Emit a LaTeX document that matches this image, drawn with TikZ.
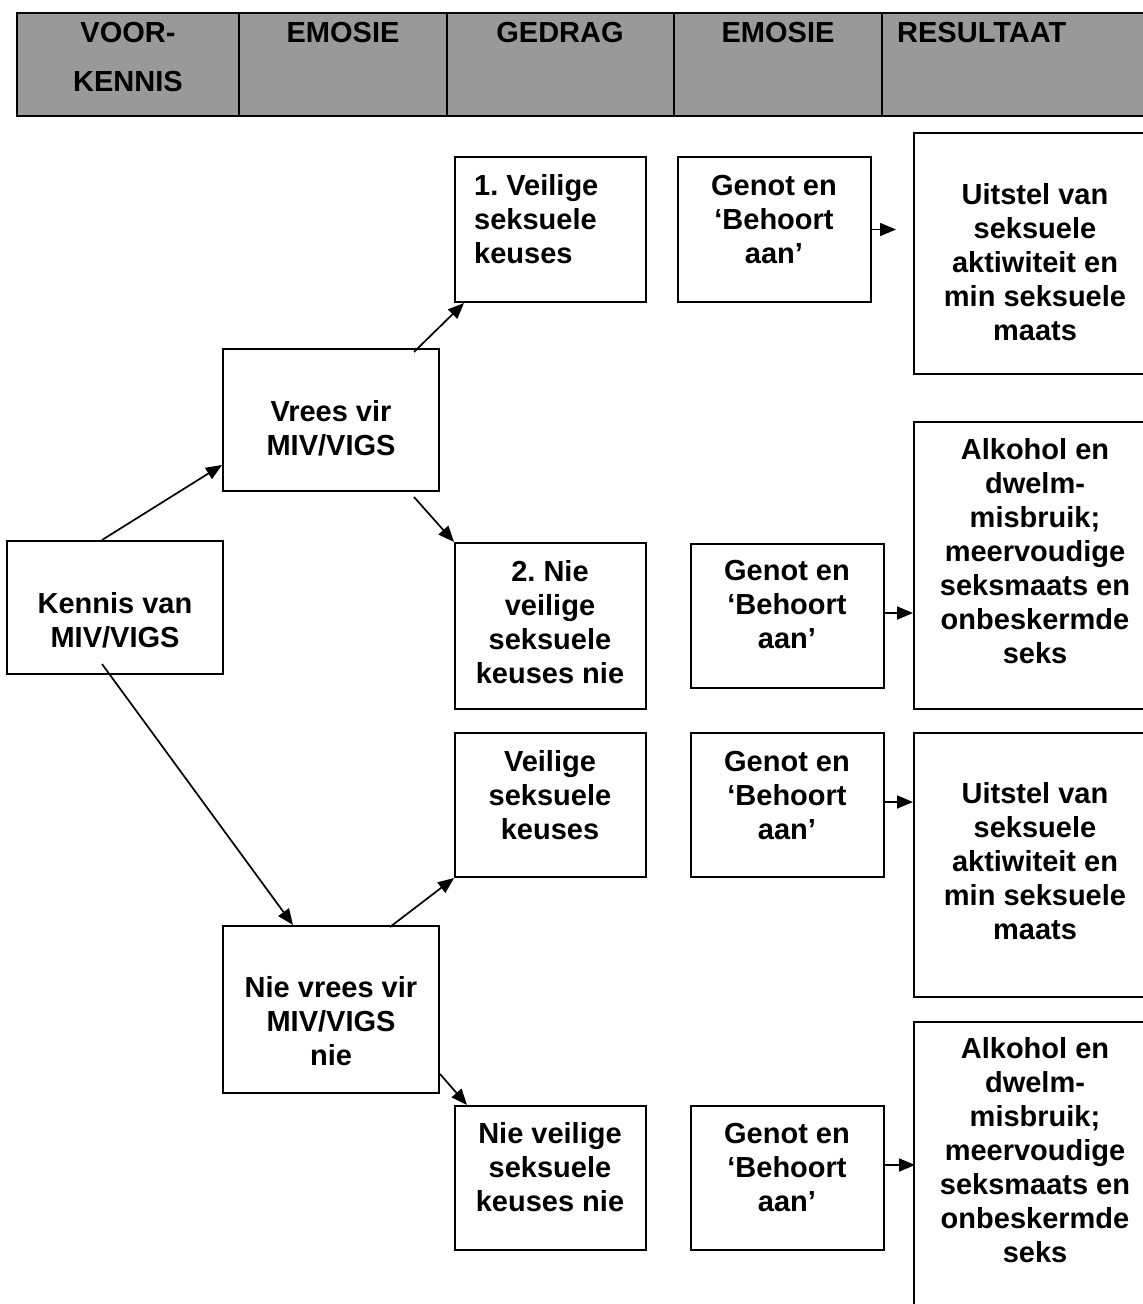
\documentclass[tikz,border=0pt]{standalone}
\usepackage{fontspec}
\setmainfont{Liberation Sans}
\usetikzlibrary{arrows.meta,fit}
\definecolor{hdrgray}{RGB}{153,153,153}
\newcommand{\mlc}[1]{\begin{tabular}[t]{@{}c@{}}#1\end{tabular}}
\newcommand{\mll}[1]{\begin{tabular}[t]{@{}l@{}}#1\end{tabular}}
\frenchspacing
\begin{document}
\frenchspacing
\begin{tikzpicture}[x=1pt,y=1pt,
  boxnode/.style={draw, line width=2pt, inner sep=0pt},
  hdrcell/.style={draw, fill=hdrgray, line width=2.5pt, inner sep=0pt},
  lbl/.style={inner sep=0pt, anchor=base, font=\fontsize{29}{34}\selectfont\bfseries\frenchspacing},
  arr/.style={line width=1.7pt, -{Triangle[length=16pt,width=13pt]}}
]
\useasboundingbox (0,0) rectangle (1143,-1304);
\begin{scope}
\clip (0,0) rectangle (1143,-1304);
% header
\node[hdrcell, fit={(17,-13)(239,-116)}] (h1) {};
\node[hdrcell, fit={(239,-13)(447,-116)}] (h2) {};
\node[hdrcell, fit={(447,-13)(674,-116)}] (h3) {};
\node[hdrcell, fit={(674,-13)(882,-116)}] (h4) {};
\node[hdrcell, fit={(882,-13)(1170,-116)}] (h5) {};
\node[lbl] (h1a) at (128,-42) {VOOR-};
\node[lbl] (h1b) at (128,-91) {KENNIS};
\node[lbl] (h2a) at (343,-42) {EMOSIE};
\node[lbl] (h3a) at (560,-42) {GEDRAG};
\node[lbl] (h4a) at (778,-42) {EMOSIE};
\node[lbl, anchor=base west] (h5a) at (897,-42) {RESULTAAT};
% boxes
\node[boxnode, fit={(7,-541)(223,-674)}] (kennis) {};
\node[boxnode, fit={(223,-349)(439,-491)}] (vrees) {};
\node[boxnode, fit={(223,-926)(439,-1093)}] (nievrees) {};
\node[boxnode, fit={(455,-157)(646,-302)}] (g1) {};
\node[boxnode, fit={(455,-543)(646,-709)}] (g2) {};
\node[boxnode, fit={(455,-733)(646,-877)}] (g3) {};
\node[boxnode, fit={(455,-1106)(646,-1250)}] (g4) {};
\node[boxnode, fit={(678,-157)(871,-302)}] (e1) {};
\node[boxnode, fit={(691,-544)(884,-688)}] (e2) {};
\node[boxnode, fit={(691,-733)(884,-877)}] (e3) {};
\node[boxnode, fit={(691,-1106)(884,-1250)}] (e4) {};
\node[boxnode, fit={(914,-133)(1170,-374)}] (r1) {};
\node[boxnode, fit={(914,-422)(1170,-709)}] (r2) {};
\node[boxnode, fit={(914,-733)(1170,-997)}] (r3) {};
\node[boxnode, fit={(914,-1022)(1170,-1340)}] (r4) {};
% texts
\node[lbl] (tk) at (115,-613) {\mlc{Kennis van\\MIV/VIGS}};
\node[lbl] (tv) at (331,-421) {\mlc{Vrees vir\\MIV/VIGS}};
\node[lbl] (tnv) at (331,-997) {\mlc{Nie vrees vir\\MIV/VIGS\\nie}};
\node[lbl, anchor=base west] (tg1) at (474,-195) {\mll{1. Veilige\\seksuele\\keuses}};
\node[lbl] (tg2) at (550,-581) {\mlc{2. Nie\\veilige\\seksuele\\keuses nie}};
\node[lbl] (tg3) at (550,-771) {\mlc{Veilige\\seksuele\\keuses}};
\node[lbl] (tg4) at (550,-1143) {\mlc{Nie veilige\\seksuele\\keuses nie}};
\node[lbl] (te1) at (774,-195) {\mlc{Genot en\\‘Behoort\\aan’}};
\node[lbl] (te2) at (787,-580) {\mlc{Genot en\\‘Behoort\\aan’}};
\node[lbl] (te3) at (787,-771) {\mlc{Genot en\\‘Behoort\\aan’}};
\node[lbl] (te4) at (787,-1143) {\mlc{Genot en\\‘Behoort\\aan’}};
\node[lbl] (tr1) at (1035,-204) {\mlc{Uitstel van\\seksuele\\aktiwiteit en\\min seksuele\\maats}};
\node[lbl] (tr2) at (1035,-459) {\mlc{Alkohol en\\dwelm-\\misbruik;\\meervoudige\\seksmaats en\\onbeskermde\\seks}};
\node[lbl] (tr3) at (1035,-803) {\mlc{Uitstel van\\seksuele\\aktiwiteit en\\min seksuele\\maats}};
\node[lbl] (tr4) at (1035,-1058) {\mlc{Alkohol en\\dwelm-\\misbruik;\\meervoudige\\seksmaats en\\onbeskermde\\seks}};
% connectors
\draw[arr] ([xshift=96pt]kennis.north west) -- ([yshift=-117pt]vrees.north west);
\draw[arr] ([xshift=96pt,yshift=11pt]kennis.south west) -- ([xshift=71pt]nievrees.north west);
\draw[arr] ([xshift=192pt,yshift=-4pt]vrees.north west) -- ([xshift=10pt]g1.south west);
\draw[arr] ([xshift=192pt,yshift=-5pt]vrees.south west) -- (g2.north west);
\draw[arr] ([xshift=168pt,yshift=-2pt]nievrees.north west) -- (g3.south west);
\draw[arr] ([yshift=20pt]nievrees.south east) -- ([xshift=13pt]g4.north west);
\coordinate (a1) at (896,-229.5);
\draw[arr] (e1.east) -- (a1);
\draw[arr] ([yshift=3pt]e2.east) -- ([yshift=3pt]e2.east -| r2.west);
\draw[arr] ([yshift=3pt]e3.east) -- ([yshift=3pt]e3.east -| r3.west);
\draw[arr] ([yshift=13pt]e4.east) -- ++(30,0);
\end{scope}
\end{tikzpicture}
\end{document}
